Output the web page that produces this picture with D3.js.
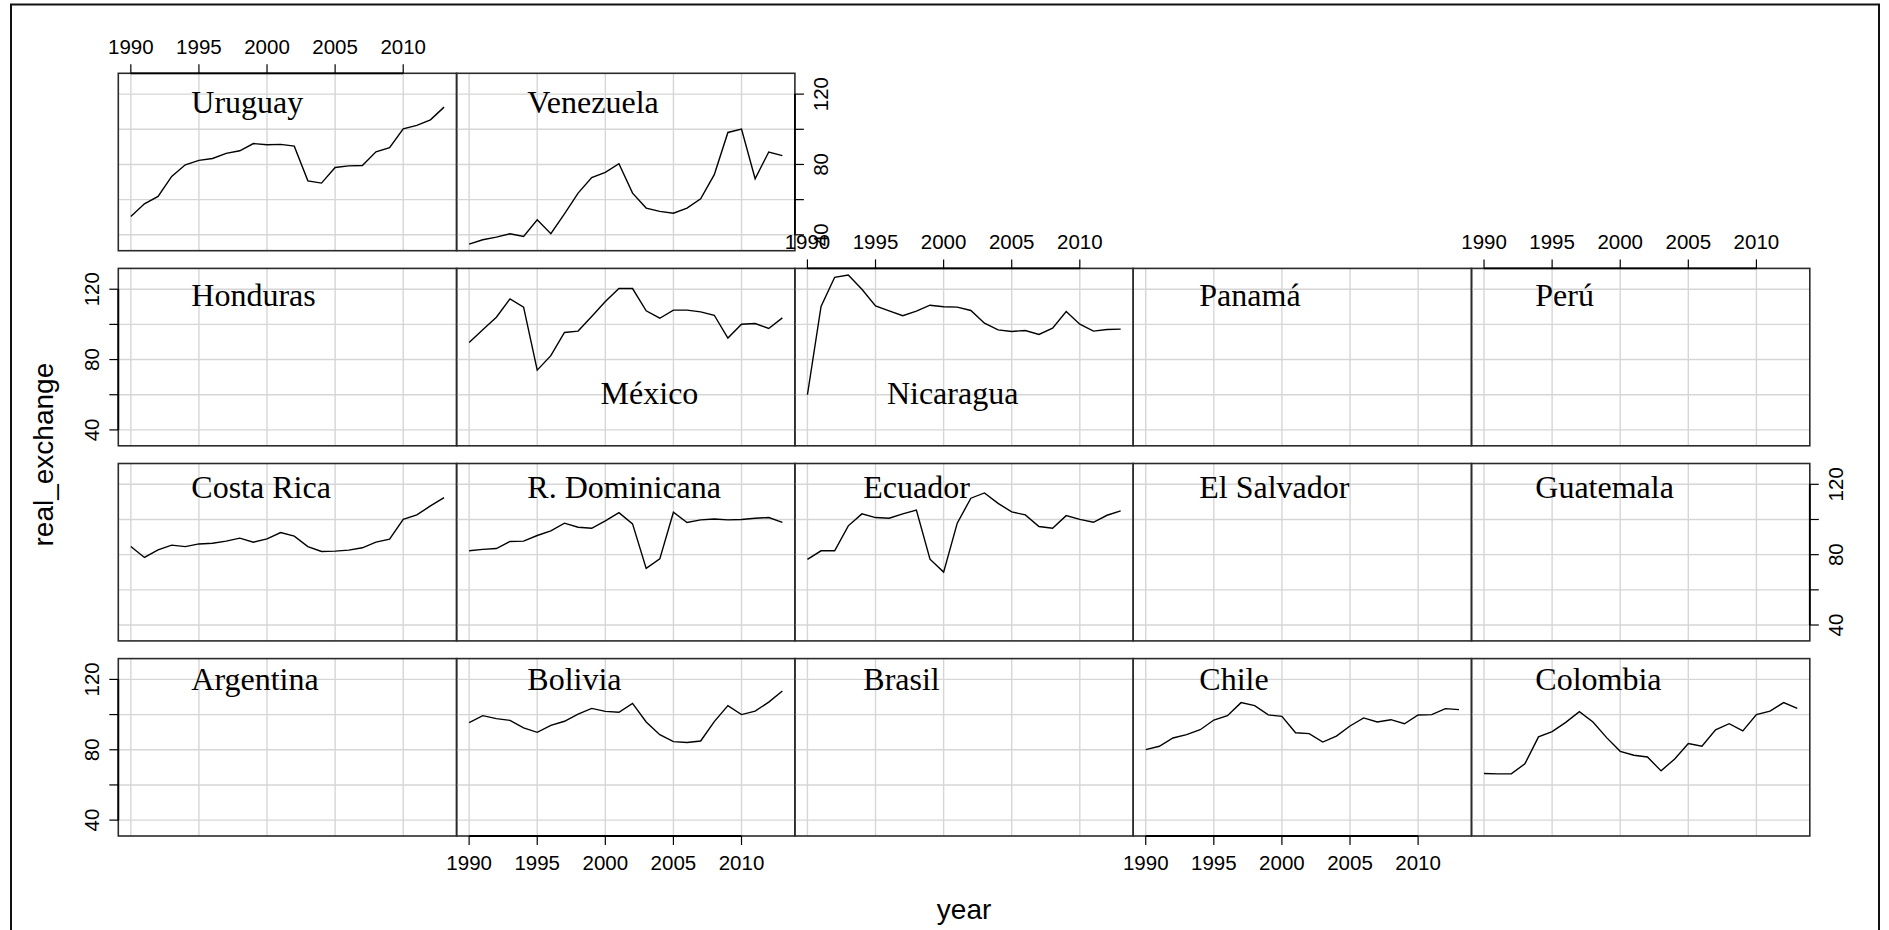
<!DOCTYPE html>
<html>
<head>
<meta charset="utf-8">
<script src="https://cdn.jsdelivr.net/npm/d3@7/dist/d3.min.js"></script>
<style>
  body { margin: 0; background: #fff; }
  svg { display: block; }
</style>
</head>
<body>
<div id="chart"></div>
<script>
// ---- data ----
const years = [1990, 1991, 1992, 1993, 1994, 1995, 1996, 1997, 1998, 1999, 2000, 2001,
               2002, 2003, 2004, 2005, 2006, 2007, 2008, 2009, 2010, 2011, 2012, 2013];

const uruguay = [50.4, 57.6, 61.8, 73.2, 79.8, 82.3, 83.4, 86.3, 87.8, 91.9, 91.2, 91.4,
                 90.4, 70.7, 69.4, 78.3, 79.2, 79.4, 87.2, 89.5, 100.3, 102.2, 105.4, 112.6];
const venezuela = [34.7, 37.2, 38.7, 40.6, 39.1, 48.5, 40.6, 51.9, 63.7, 72.6, 75.5, 80.4,
                   63.7, 55.2, 53.3, 52.3, 55.2, 60.5, 74.2, 98.2, 100.1, 71.9, 87.1, 85.0];
const mexico = [89.7, 96.9, 104.1, 114.5, 109.8, 74.0, 82.2, 95.4, 96.2, 104.5, 113.0, 120.4,
                120.4, 107.7, 103.5, 108.1, 108.1, 107.1, 105.2, 92.2, 100.1, 100.5, 97.7, 103.7];
const nicaragua = [60.0, 110.2, 126.8, 128.1, 120.0, 110.5, 107.7, 104.9, 107.5, 110.9, 110.0, 109.8,
                   107.9, 100.7, 96.9, 96.0, 96.5, 94.3, 97.9, 107.3, 100.1, 96.2, 97.1, 97.3];
const costaRica = [84.6, 78.4, 82.7, 85.4, 84.6, 86.1, 86.5, 87.7, 89.4, 87.1, 89.0, 92.6,
                   90.5, 84.6, 81.8, 82.0, 82.6, 83.9, 87.1, 88.8, 100.1, 102.6, 107.7, 112.4];
const rDominicana = [82.2, 83.0, 83.5, 87.5, 87.7, 90.9, 93.5, 97.9, 95.6, 95.0, 99.2, 103.9,
                     97.5, 72.2, 77.6, 104.1, 98.3, 99.8, 100.3, 99.8, 100.0, 100.7, 101.1, 98.4];
const ecuador = [77.3, 82.2, 82.2, 96.4, 103.2, 101.1, 100.7, 103.2, 105.4, 77.4, 70.1, 97.9,
                 112.1, 115.1, 109.2, 104.3, 102.6, 96.0, 95.0, 102.2, 100.1, 98.4, 102.4, 104.9];
const bolivia = [95.4, 99.4, 97.7, 96.7, 92.4, 89.9, 93.9, 96.2, 100.3, 103.5, 101.8, 101.3,
                 106.4, 95.8, 88.6, 84.6, 84.1, 85.0, 96.0, 105.1, 100.0, 102.0, 107.1, 113.4];
const chile = [80.1, 82.0, 86.7, 88.6, 91.4, 96.9, 99.4, 106.8, 105.1, 99.8, 99.0, 89.7,
               89.2, 84.4, 87.8, 93.5, 98.1, 95.8, 97.1, 94.8, 99.8, 100.0, 103.4, 102.8];
const colombia = [66.5, 66.3, 66.3, 72.0, 87.3, 90.3, 95.6, 101.7, 95.8, 86.9, 79.1, 76.9,
                  75.9, 68.0, 74.8, 83.5, 82.0, 91.3, 94.8, 90.7, 100.0, 102.0, 106.8, 103.5];

// panels in lattice order: left to right, bottom row first
const countries = ["Argentina", "Bolivia", "Brasil", "Chile", "Colombia",
                   "Costa Rica", "R. Dominicana", "Ecuador", "El Salvador", "Guatemala",
                   "Honduras", "México", "Nicaragua", "Panamá", "Perú",
                   "Uruguay", "Venezuela"];

const seriesByCountry = {
  "Uruguay": uruguay, "Venezuela": venezuela, "México": mexico, "Nicaragua": nicaragua,
  "Costa Rica": costaRica, "R. Dominicana": rDominicana, "Ecuador": ecuador,
  "Bolivia": bolivia, "Chile": chile, "Colombia": colombia
};

const xTicks = [1990, 1995, 2000, 2005, 2010];
const yTicks = [40, 60, 80, 100, 120];
const yTickLabels = ["40", "", "80", "", "120"];

// ---- layout ----
const chartConfig = {
  width: 1889,
  height: 930,
  left: 118.3,
  top: 73.3,
  panelW: 338.3,
  panelH: 177.4,
  rowPitch: 195.1,
  nCols: 5,
  nRows: 4,
  tick: 9,
  grid: "#d6d6d6",
  frame: "#2b2b2b"
};

const svg = d3.select("#chart").append("svg")
  .attr("width", chartConfig.width)
  .attr("height", chartConfig.height);

// outer frame of the device
svg.append("rect")
  .attr("x", 11).attr("y", 4.5)
  .attr("width", 1868).attr("height", 960)
  .attr("fill", "none").attr("stroke", "#111").attr("stroke-width", 2);

function padded(ext) {
  const d = ext[1] - ext[0];
  return [ext[0] - 0.04 * d, ext[1] + 0.04 * d];
}

const allValues = [].concat(...Object.values(seriesByCountry));
const x = d3.scaleLinear().domain(padded(d3.extent(years))).range([0, chartConfig.panelW]);
const y = d3.scaleLinear().domain(padded(d3.extent(allValues))).range([chartConfig.panelH, 0]);

const line = d3.line()
  .x((d, i) => x(years[i]))
  .y(d => y(d));

// special label spots for the two panels where the line fills the top
const labelSpot = {
  "México": {dx: 144, y: 60.5},
  "Nicaragua": {dx: 92, y: 60.5}
};

const panels = countries.map((name, i) => {
  const rowFromBottom = Math.floor(i / chartConfig.nCols);
  return {
    name: name,
    col: i % chartConfig.nCols,
    row: chartConfig.nRows - 1 - rowFromBottom,
    values: seriesByCountry[name] || null
  };
});

const panelG = svg.selectAll(".panel")
  .data(panels)
  .enter()
  .append("g")
  .attr("class", "panel")
  .attr("transform", d => `translate(${chartConfig.left + d.col * chartConfig.panelW},${chartConfig.top + d.row * chartConfig.rowPitch})`);

panelG.each(function (p) {
  const g = d3.select(this);

  g.selectAll(".vgrid").data(xTicks).enter().append("line")
    .attr("x1", d => x(d)).attr("x2", d => x(d))
    .attr("y1", 0).attr("y2", chartConfig.panelH)
    .attr("stroke", chartConfig.grid).attr("stroke-width", 1.4);

  g.selectAll(".hgrid").data(yTicks).enter().append("line")
    .attr("x1", 0).attr("x2", chartConfig.panelW)
    .attr("y1", d => y(d)).attr("y2", d => y(d))
    .attr("stroke", chartConfig.grid).attr("stroke-width", 1.4);

  if (p.values) {
    g.append("path")
      .datum(p.values)
      .attr("d", line)
      .attr("fill", "none")
      .attr("stroke", "#000")
      .attr("stroke-width", 1.4);
  }

  const spot = labelSpot[p.name];
  g.append("text")
    .attr("x", spot ? spot.dx : 73 - 2.3 * p.col)
    .attr("y", spot ? y(spot.y) + 10 : 40 - 2.7 * p.row)
    .attr("font-family", "'Liberation Serif', 'Times New Roman', serif")
    .attr("font-size", "32px")
    .attr("fill", "#000")
    .text(p.name);

  g.append("rect")
    .attr("width", chartConfig.panelW)
    .attr("height", chartConfig.panelH)
    .attr("fill", "none")
    .attr("stroke", chartConfig.frame)
    .attr("stroke-width", 1.6);
});

// ---- axes, alternating like lattice ----
const tickFont = "'Liberation Sans', Arial, sans-serif";

function panelOrigin(col, row) {
  return [chartConfig.left + col * chartConfig.panelW, chartConfig.top + row * chartConfig.rowPitch];
}

function xAxis(col, row, side) {
  const [ox, oy] = panelOrigin(col, row);
  const g = svg.append("g").attr("class", "x axis")
    .attr("transform", `translate(${ox},${oy + (side === "bottom" ? chartConfig.panelH : 0)})`);
  const dir = side === "bottom" ? 1 : -1;
  g.append("line")
    .attr("x1", x(xTicks[0])).attr("x2", x(xTicks[xTicks.length - 1]))
    .attr("stroke", "#000").attr("stroke-width", 1.8);
  g.selectAll("line.tk").data(xTicks).enter().append("line")
    .attr("class", "tk")
    .attr("x1", d => x(d)).attr("x2", d => x(d))
    .attr("y1", 0).attr("y2", dir * chartConfig.tick)
    .attr("stroke", "#000").attr("stroke-width", 1.2);
  g.selectAll("text").data(xTicks).enter().append("text")
    .attr("x", d => x(d))
    .attr("y", side === "bottom" ? 33.5 : -19.5)
    .attr("text-anchor", "middle")
    .attr("font-family", tickFont)
    .attr("font-size", "20.5px")
    .text(d => d);
}

function yAxis(col, row, side) {
  const [ox, oy] = panelOrigin(col, row);
  const g = svg.append("g").attr("class", "y axis")
    .attr("transform", `translate(${ox + (side === "right" ? chartConfig.panelW : 0)},${oy})`);
  const dir = side === "right" ? 1 : -1;
  g.append("line")
    .attr("y1", y(yTicks[0])).attr("y2", y(yTicks[yTicks.length - 1]))
    .attr("stroke", "#000").attr("stroke-width", 1.8);
  g.selectAll("line.tk").data(yTicks).enter().append("line")
    .attr("class", "tk")
    .attr("y1", d => y(d)).attr("y2", d => y(d))
    .attr("x1", 0).attr("x2", dir * chartConfig.tick)
    .attr("stroke", "#000").attr("stroke-width", 1.2);
  const lx = side === "right" ? 33.5 : -19.5;
  g.selectAll("text").data(yTicks).enter().append("text")
    .attr("transform", d => `translate(${lx},${y(d)}) rotate(-90)`)
    .attr("text-anchor", "middle")
    .attr("font-family", tickFont)
    .attr("font-size", "20.5px")
    .text((d, i) => yTickLabels[i]);
}

xAxis(0, 0, "top");
xAxis(2, 1, "top");
xAxis(4, 1, "top");
xAxis(1, 3, "bottom");
xAxis(3, 3, "bottom");
yAxis(0, 1, "left");
yAxis(0, 3, "left");
yAxis(1, 0, "right");
yAxis(4, 2, "right");

// axis titles
const panelsRight = chartConfig.left + chartConfig.nCols * chartConfig.panelW;
svg.append("text")
  .attr("x", (chartConfig.left + panelsRight) / 2)
  .attr("y", 919)
  .attr("text-anchor", "middle")
  .attr("font-family", tickFont)
  .attr("font-size", "28px")
  .text("year");

const panelsBottom = chartConfig.top + (chartConfig.nRows - 1) * chartConfig.rowPitch + chartConfig.panelH;
svg.append("text")
  .attr("transform", `translate(53,${(chartConfig.top + panelsBottom) / 2}) rotate(-90)`)
  .attr("text-anchor", "middle")
  .attr("font-family", tickFont)
  .attr("font-size", "28px")
  .text("real_exchange");
</script>
</body>
</html>
